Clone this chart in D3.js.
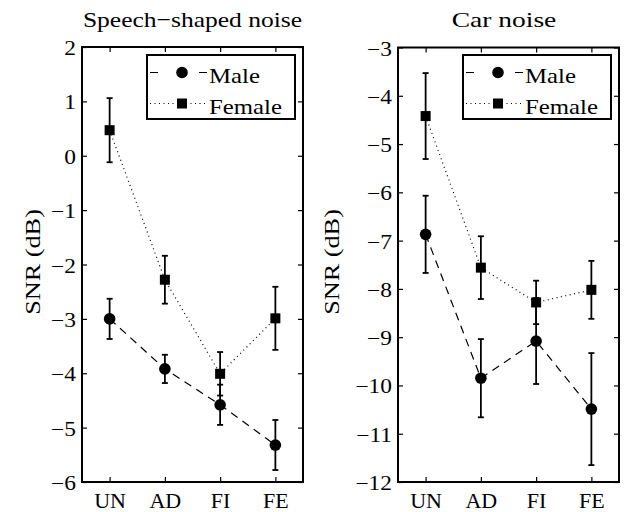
<!DOCTYPE html>
<html>
<head>
<meta charset="utf-8">
<script src="https://cdn.jsdelivr.net/npm/d3@7"></script>
<style>
  body { margin: 0; background: #fff; }
  svg text { font-family: "Liberation Serif", "Times New Roman", serif; fill: #000; }
</style>
</head>
<body>
<svg id="chart" width="626" height="512"></svg>
<script>
// Data (SNR in dB, mean and half-width of error bar)
var categories = ["UN", "AD", "FI", "FE"];
var seriesNames = ["Male", "Female"];

var speechMale = [-3.0, -3.92, -4.58, -5.32],
    speechMaleErr = [0.37, 0.26, 0.37, 0.46],
    speechFemale = [0.47, -2.28, -4.01, -2.99],
    speechFemaleErr = [0.59, 0.44, 0.40, 0.58];

var carMale = [-6.87, -9.85, -9.08, -10.49],
    carMaleErr = [0.80, 0.81, 0.89, 1.16],
    carFemale = [-4.42, -7.56, -8.28, -8.02],
    carFemaleErr = [0.89, 0.65, 0.45, 0.60];

var speechTicks = [-6, -5, -4, -3, -2, -1, 0, 1, 2],
    carTicks = [-12, -11, -10, -9, -8, -7, -6, -5, -4, -3];

var svg = d3.select("#chart");

// the original font is wider than Liberation Serif, so stretch text a bit
function stretch(sel, k) {
  sel.each(function () {
    var w = this.getComputedTextLength();
    this.setAttribute("textLength", w * k);
    this.setAttribute("lengthAdjust", "spacingAndGlyphs");
  });
}

// one panel per noise type
function drawPanel(opt) {
  var x = d3.scalePoint().domain(categories).range([opt.left, opt.right]).padding(0.5);
  var y = d3.scaleLinear().domain([opt.ticks[0], opt.ticks[opt.ticks.length - 1]]).range([opt.bottom, opt.top]);
  var g = svg.append("g");

  // axes (ticks point inward, box all round)
  var ax = g.append("g").attr("transform", "translate(" + opt.left + ",0)")
    .call(d3.axisLeft(y).tickValues(opt.ticks).tickFormat(d3.format("d")).tickSizeInner(-5).tickSizeOuter(0));
  g.append("g").attr("transform", "translate(" + opt.right + ",0)")
    .call(d3.axisRight(y).tickValues(opt.ticks).tickFormat("").tickSizeInner(-5).tickSizeOuter(0));
  var bx = g.append("g").attr("transform", "translate(0," + opt.bottom + ")")
    .call(d3.axisBottom(x).tickSizeInner(-5).tickSizeOuter(0));
  g.append("g").attr("transform", "translate(0," + opt.top + ")")
    .call(d3.axisTop(x).tickFormat("").tickSizeInner(-5).tickSizeOuter(0));
  g.selectAll(".domain").remove();
  g.selectAll(".tick line").attr("stroke", "#000").attr("stroke-width", 1.2);
  g.selectAll(".tick text").attr("font-family", null).attr("fill", "#000");

  var yl = ax.selectAll(".tick text").style("font-size", "20px")
    .attr("x", -6).attr("y", 7.5).attr("dy", null);
  stretch(yl, 1.17);
  bx.selectAll(".tick text").style("font-size", "22px")
    .attr("y", 25.5).attr("dy", null);

  g.append("rect")
    .attr("x", opt.left).attr("y", opt.top)
    .attr("width", opt.right - opt.left).attr("height", opt.bottom - opt.top)
    .attr("fill", "none").attr("stroke", "#000").attr("stroke-width", 2);

  // title + y label
  var t = g.append("text").attr("x", opt.titleX).attr("y", 27)
    .attr("text-anchor", "middle").style("font-size", "22px").text(opt.title);
  stretch(t, opt.titleStretch);
  var yt = g.append("text")
    .attr("transform", "translate(" + opt.ylabelX + "," + opt.ylabelY + ") rotate(-90)")
    .attr("text-anchor", "middle")
    .style("font-size", "21px").text("SNR (dB)");
  stretch(yt, 1.25);

  var line = d3.line().x(function (d, i) { return x(categories[i]); }).y(function (d) { return y(d); });

  var series = [
    {name: seriesNames[0], vals: opt.male, err: opt.maleErr, dash: "8,6", legDash: "8,41,8", marker: "circle"},
    {name: seriesNames[1], vals: opt.female, err: opt.femaleErr, dash: "1,3.5", legDash: "1,3.5", marker: "square"}
  ];

  series.forEach(function (s) {
    g.append("path").datum(s.vals).attr("d", line)
      .attr("fill", "none").attr("stroke", "#000").attr("stroke-width", 1.2)
      .attr("stroke-dasharray", s.dash);
  });

  series.forEach(function (s) {
    var eb = g.append("g").selectAll("g").data(s.vals).enter().append("g");
    eb.append("line")
      .attr("x1", function (d, i) { return x(categories[i]); })
      .attr("x2", function (d, i) { return x(categories[i]); })
      .attr("y1", function (d, i) { return y(d - s.err[i]); })
      .attr("y2", function (d, i) { return y(d + s.err[i]); });
    eb.append("line")
      .attr("x1", function (d, i) { return x(categories[i]) - 3; })
      .attr("x2", function (d, i) { return x(categories[i]) + 3; })
      .attr("y1", function (d, i) { return y(d - s.err[i]); })
      .attr("y2", function (d, i) { return y(d - s.err[i]); });
    eb.append("line")
      .attr("x1", function (d, i) { return x(categories[i]) - 3; })
      .attr("x2", function (d, i) { return x(categories[i]) + 3; })
      .attr("y1", function (d, i) { return y(d + s.err[i]); })
      .attr("y2", function (d, i) { return y(d + s.err[i]); });
    eb.selectAll("line").attr("stroke", "#000").attr("stroke-width", 1.8);
  });

  series.forEach(function (s) {
    var m = g.append("g").selectAll(".m").data(s.vals).enter();
    if (s.marker === "circle") {
      m.append("circle")
        .attr("cx", function (d, i) { return x(categories[i]); })
        .attr("cy", function (d) { return y(d); })
        .attr("r", 5.8).attr("fill", "#000");
    } else {
      m.append("rect")
        .attr("x", function (d, i) { return x(categories[i]) - 5; })
        .attr("y", function (d) { return y(d) - 5; })
        .attr("width", 10).attr("height", 10).attr("fill", "#000");
    }
  });

  // legend
  var lx = opt.right - 156, ly = 55;
  var lg = g.append("g").attr("transform", "translate(" + lx + "," + ly + ")");
  lg.append("rect").attr("width", 148).attr("height", 64)
    .attr("fill", "#fff").attr("stroke", "#000").attr("stroke-width", 2);
  series.forEach(function (s, i) {
    var yy = 17.5 + i * 31;
    lg.append("line").attr("x1", 3).attr("x2", 60).attr("y1", yy).attr("y2", yy)
      .attr("stroke", "#000").attr("stroke-width", 1.2)
      .attr("stroke-dasharray", s.legDash);
    if (s.marker === "circle") {
      lg.append("circle").attr("cx", 35).attr("cy", yy).attr("r", 5.8).attr("fill", "#000");
    } else {
      lg.append("rect").attr("x", 30).attr("y", yy - 5).attr("width", 10).attr("height", 10).attr("fill", "#000");
    }
    var lt = lg.append("text").attr("x", 62).attr("y", yy + 10)
      .style("font-size", "21px").text(s.name);
    stretch(lt, 1.18);
  });
}

drawPanel({title: "Speech\u2212shaped noise", titleX: 192.5, titleStretch: 1.16,
  left: 82, right: 303, top: 47, bottom: 482, ylabelX: 40, ylabelY: 262,
  ticks: speechTicks, male: speechMale, maleErr: speechMaleErr, female: speechFemale, femaleErr: speechFemaleErr});
drawPanel({title: "Car noise", titleX: 504, titleStretch: 1.25,
  left: 398, right: 619, top: 47.5, bottom: 482, ylabelX: 339, ylabelY: 262,
  ticks: carTicks, male: carMale, maleErr: carMaleErr, female: carFemale, femaleErr: carFemaleErr});
</script>
</body>
</html>
